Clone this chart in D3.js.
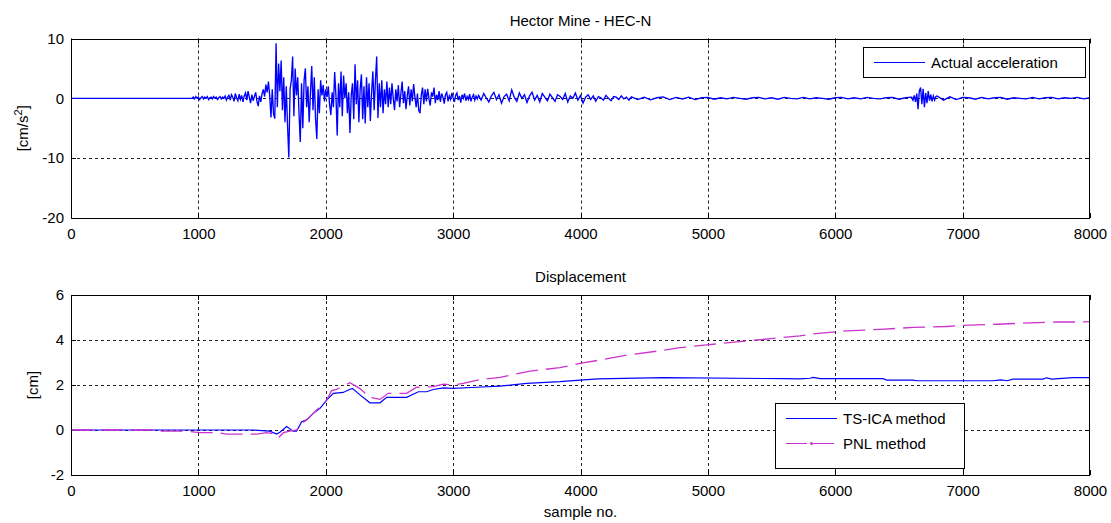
<!DOCTYPE html>
<html>
<head>
<meta charset="utf-8">
<script src="https://cdn.jsdelivr.net/npm/d3@7"></script>
<style>
  html, body { margin: 0; padding: 0; background: #fff; }
  svg { display: block; font-family: "Liberation Sans", Arial, sans-serif; }
</style>
</head>
<body>
<svg id="chart" width="1111" height="523"></svg>
<script>
// ---------------- DATA ----------------
const xTicks = [0, 1000, 2000, 3000, 4000, 5000, 6000, 7000, 8000];
const accTicks = [-20, -10, 0, 10];
const dispTicks = [-2, 0, 2, 4, 6];

// Acceleration (cm/s^2), hand-read segments: each has a start sample and a sample step
const accLead = [0, 0];                       // samples 0, 950
const accPre = [0.2, -0.1, 0.3, 0.0, 0.2, -0.2, 0.1, 0.3, -0.1, 0.2, 0.0, 0.3, -0.2, 0.1, 0.2,
  -0.1, 0.3, 0.0, 0.2, -0.2, 0.1, 0.3, -0.1, 0.2, 0.0, 0.4, -0.3, 0.2, 0.5];   // from 960, step 10
const accRise = [-0.3, 0.6, 0.2, -0.5, 0.8, 0.1, -0.4, 0.7, -0.2, 0.5, -0.6, 0.4, 0.9, -0.3, 1.2,
  0.2, -0.8, 0.6, -0.4, 0.3, 1.0, -0.5, -1.3, 0.4, -0.6, 0.8, 1.5, 0.3, 2.3, 1.0];  // from 1250, step 10
const accMain1 = [2.8, 0.5, -3.2, 1.5, -2.6, -3.4, 9.2, -1.5, 5.8, 1.2, 6.3, -2.0, 3.5, -4.0, 2.0,
  -4.5, -9.9, 1.5, 3.0, 7.0, -3.0, 5.0, 0.5, 3.5, -2.5, -7.3, 2.5, -5.0, 3.0, 5.0, -1.5, 2.0, -4.0,
  1.0, 5.4, -2.0, 3.5, -3.5, -6.8, 1.5, -2.5, 3.0, 0.5, 2.2, -0.5];            // from 1550, step 10
const accMain2 = [1.5, 0.2, 2.0, -1.0, -2.8, 1.0, -1.5, 4.4, 0.5, -6.2, 2.5, -1.5, 4.5, -3.0, 3.8,
  0.0, 2.5, -2.5, 1.0, -5.8, 0.5, 2.5, -3.5, 5.7, -1.0, 3.0, -4.0, 1.5, 4.0, -3.5, 2.0, -4.2, 3.5,
  -1.5, 2.5, -3.8, 1.0, 4.5, -2.0, 3.0, 7.0, -3.3, 2.5, -1.5, 3.0, -2.5, 1.5, -1.0, 2.8, -1.5]; // from 2000, step 10
const accCoda = [1.8, -1.0, 2.5, 0.0, -2.0, 1.5, -0.5, 2.2, -1.5, 0.8, 2.8, -0.8, 1.2, -1.8, 0.5,
  2.0, -1.2, 1.5, -0.5, 2.4, 0.2, -1.5, 0.8, -2.0, -2.5, 0.5, 1.8, -1.0, 1.5, -0.5, 1.6, 0.0, -1.2,
  1.0, 0.3, 1.8, -0.8, 0.6, -0.3, 1.2, -0.6, 0.8, 0.2, -0.9, 0.6, 1.0, -0.5, 0.4, -0.2, 0.9, 0.1,
  -0.6, 0.5, 0.9, -0.3, 0.4, -0.7, 0.6, 0.0, 0.8, -0.4, 0.3, -0.2, 0.7, -0.5, 0.2, 0.6, -0.3, 0.4, -0.1]; // from 2500, step 10
const accMid = [0.5, -0.3, 0.8, 0.1, -0.6, 0.4, 1.0, -0.2, 0.6, -0.8, 0.3, 0.7, -0.4, 1.4, 0.2,
  -0.5, 0.9, 0.0, 0.6, -0.7, 0.4, 1.0, -0.3, 0.5, -0.6, 0.8, 0.2, -0.4, 0.7, 0.1, -0.5, 0.6, 0.3,
  -0.2, 0.8, -0.6, 0.4, 0.0, 0.9, -0.3, 0.5, -0.8, 0.2, 0.6, -0.2, 0.4, -0.5, 0.3, 0.1, -0.3, 0.5,
  0.0, -0.4, 0.3, 0.2, -0.2, 0.4, -0.1, 0.2, -0.3];                             // from 3200, step 20
const accTail1 = [0.25, -0.2, 0.2, -0.25, 0.1, 0.25, -0.2, 0.15, -0.1, 0.2, -0.2, 0.1, 0.15, -0.15, 0.1,
  -0.1, 0.15, 0.0, -0.15, 0.1, 0.15, -0.1, 0.1, -0.15, 0.15, 0.0, -0.1, 0.15, -0.1, 0.1, 0.0, -0.15, 0.1,
  0.15, -0.1, 0.1, -0.1, 0.15, 0.0, -0.1, 0.1, 0.15, -0.15, 0.1];               // from 4400, step 50
const accBurst = [0.2, -0.3, 0.5, -0.6, 0.8, -1.8, 1.2, 1.8, -1.0, 1.6, -1.5, 0.9, -0.8, 1.2, -0.4,
  0.6, -0.5, 0.4, -0.3, 0.3];                                                    // from 6600, step 10
const accTail2 = [0.4, -0.3, 0.25, -0.2, 0.15, 0.1, -0.15, 0.15, -0.1, 0.1, 0.15, -0.15, 0.1, 0.0, -0.1,
  0.15, -0.1, 0.1, 0.15, -0.1, 0.1, 0.0, 0.15, -0.1, 0.1];                       // from 6800, step 50

// Displacement (cm)
const tsicaSamples = [0, 1430, 1560, 1615, 1640, 1693, 1744, 1771, 1811, 1850, 1902, 1955, 2007, 2059,
  2137, 2190, 2211, 2269, 2347, 2426, 2478, 2635, 2727, 2792, 2844, 2923, 3001, 3184, 3368, 3577,
  3839, 3996, 4137, 4648, 5590, 5723, 5800, 5827, 5880, 6375, 6405, 6610, 6640, 7240, 7300, 7350,
  7395, 7630, 7660, 7700, 7865, 8000];
const tsicaValues = [0, 0, -0.05, -0.18, -0.1, 0.15, -0.05, -0.05, 0.37, 0.45, 0.74, 0.96, 1.33, 1.63,
  1.67, 1.81, 1.84, 1.56, 1.21, 1.21, 1.45, 1.45, 1.7, 1.7, 1.8, 1.87, 1.85, 1.9, 1.95, 2.07,
  2.15, 2.22, 2.27, 2.33, 2.28, 2.27, 2.3, 2.34, 2.28, 2.28, 2.22, 2.22, 2.19, 2.19, 2.23, 2.19,
  2.26, 2.26, 2.32, 2.26, 2.33, 2.33];
const pnlSamples = [0, 645, 660, 910, 1010, 1145, 1220, 1460, 1536, 1590, 1628, 1667, 1720, 1772, 1798,
  1850, 1928, 1994, 2046, 2085, 2190, 2269, 2347, 2426, 2490, 2635, 2713, 2844, 2923, 3001, 3080,
  3211, 3368, 3604, 3839, 3996, 4153, 4362, 4623, 4780, 4990, 5251, 5513, 5722, 5827, 6090, 6351,
  6613, 6875, 7006, 7268, 7530, 7738, 7920, 8000];
const pnlValues = [0, 0, -0.05, -0.05, -0.12, -0.12, -0.18, -0.18, -0.12, -0.17, -0.34, -0.12, -0.05, 0,
  0.22, 0.45, 0.89, 1.19, 1.75, 1.81, 2.1, 1.84, 1.45, 1.36, 1.63, 1.63, 1.9, 1.93, 2.04, 2.0, 2.07,
  2.24, 2.34, 2.62, 2.77, 2.96, 3.11, 3.33, 3.52, 3.66, 3.78, 3.93, 4.07, 4.18, 4.27, 4.41, 4.47,
  4.56, 4.6, 4.65, 4.7, 4.76, 4.8, 4.8, 4.82];

// segment table (start sample, step) built from the arrays above
const accSegments = [
  { start: 0, step: 950, values: accLead },
  { start: 960, step: 10, values: accPre },
  { start: 1250, step: 10, values: accRise },
  { start: 1550, step: 10, values: accMain1 },
  { start: 2000, step: 10, values: accMain2 },
  { start: 2500, step: 10, values: accCoda },
  { start: 3200, step: 20, values: accMid },
  { start: 4400, step: 50, values: accTail1 },
  { start: 6600, step: 10, values: accBurst },
  { start: 6800, step: 50, values: accTail2 }
];
const accData = [];
accSegments.forEach(s => s.values.forEach((v, i) => accData.push([s.start + i * s.step, v])));
const tsicaData = tsicaSamples.map((s, i) => [s, tsicaValues[i]]);
const pnlData = pnlSamples.map((s, i) => [s, pnlValues[i]]);

// ---------------- DRAW ----------------
const svg = d3.select("#chart");
const X0 = 71, X1 = 1090;
const x = d3.scaleLinear().domain([0, 8000]).range([X0, X1]);
const yTop = d3.scaleLinear().domain([-20, 10]).range([218, 38.5]);
const yBot = d3.scaleLinear().domain([-2, 6]).range([475, 295]);
const FS = 15;
const fmt = d => String(d);   // plain hyphen-minus like the original

function panel(y, yTicks, title, id) {
  const g = svg.append("g");
  const [yb, yt] = y.range();
  // grid
  g.selectAll("line.vg").data(xTicks.slice(1, -1)).enter().append("line")
    .attr("x1", d => Math.round(x(d)) + 0.5).attr("x2", d => Math.round(x(d)) + 0.5)
    .attr("y1", yt).attr("y2", yb)
    .attr("stroke", "#222").attr("stroke-width", 1).attr("stroke-dasharray", "3,3");
  g.selectAll("line.hg").data(yTicks.slice(1, -1)).enter().append("line")
    .attr("x1", X0).attr("x2", X1)
    .attr("y1", d => Math.round(y(d)) + 0.5).attr("y2", d => Math.round(y(d)) + 0.5)
    .attr("stroke", "#222").attr("stroke-width", 1).attr("stroke-dasharray", "3,3");
  // clip
  svg.append("clipPath").attr("id", id).append("rect")
    .attr("x", X0).attr("y", yt).attr("width", X1 - X0).attr("height", yb - yt);
  // x axis
  const xa = g.append("g").attr("transform", `translate(0,${yb})`)
    .call(d3.axisBottom(x).tickValues(xTicks).tickSize(0).tickPadding(10).tickFormat(fmt));
  xa.select(".domain").remove();
  xa.selectAll("text").attr("font-size", FS).attr("fill", "#000")
    .attr("font-family", "'Liberation Sans', Arial, sans-serif");
  // y axis
  const ya = g.append("g").attr("transform", `translate(${X0},0)`)
    .call(d3.axisLeft(y).tickValues(yTicks).tickSize(0).tickPadding(7).tickFormat(fmt));
  ya.select(".domain").remove();
  ya.selectAll("text").attr("font-size", FS).attr("fill", "#000")
    .attr("font-family", "'Liberation Sans', Arial, sans-serif");
  // inward tick marks
  xTicks.forEach(t => {
    const px = Math.round(x(t)) + 0.5;
    g.append("line").attr("x1", px).attr("x2", px).attr("y1", yb).attr("y2", yb - 5).attr("stroke", "#000");
    g.append("line").attr("x1", px).attr("x2", px).attr("y1", yt).attr("y2", yt + 5).attr("stroke", "#000");
  });
  yTicks.forEach(t => {
    const py = Math.round(y(t)) + 0.5;
    g.append("line").attr("x1", X0).attr("x2", X0 + 5).attr("y1", py).attr("y2", py).attr("stroke", "#000");
    g.append("line").attr("x1", X1).attr("x2", X1 - 5).attr("y1", py).attr("y2", py).attr("stroke", "#000");
  });
  // title
  svg.append("text").attr("x", (X0 + X1) / 2).attr("y", yt - 13)
    .attr("text-anchor", "middle").attr("font-size", FS).text(title);
  return g;
}

panel(yTop, accTicks, "Hector Mine - HEC-N", "clipTop");
panel(yBot, dispTicks, "Displacement", "clipBot");

// acceleration line
const lineTop = d3.line().x(d => x(d[0])).y(d => yTop(d[1]));
svg.append("path").datum(accData).attr("clip-path", "url(#clipTop)")
  .attr("d", lineTop).attr("fill", "none").attr("stroke", "#0000ff").attr("stroke-width", 1.35)
  .attr("stroke-linejoin", "miter");

// displacement lines
const lineBot = d3.line().x(d => x(d[0])).y(d => yBot(d[1]));
svg.append("path").datum(tsicaData).attr("clip-path", "url(#clipBot)")
  .attr("d", lineBot).attr("fill", "none").attr("stroke", "#0000ff").attr("stroke-width", 1.2);
svg.append("path").datum(pnlData).attr("clip-path", "url(#clipBot)")
  .attr("d", lineBot).attr("fill", "none").attr("stroke", "#cc33cc").attr("stroke-width", 1.3)
  .attr("stroke-dasharray", "22,8");

// axes frames
[yTop, yBot].forEach(y => {
  const [yb, yt] = y.range();
  svg.append("rect").attr("x", X0 + 0.5).attr("y", Math.round(yt) + 0.5)
    .attr("width", X1 - X0 - 1).attr("height", Math.round(yb) - Math.round(yt))
    .attr("fill", "none").attr("stroke", "#000").attr("stroke-width", 1);
});

// y labels
svg.append("text").attr("transform", `translate(28,${(yTop(10) + yTop(-20)) / 2}) rotate(-90)`)
  .attr("text-anchor", "middle").attr("font-size", FS)
  .call(t => {
    t.append("tspan").text("[cm/s");
    t.append("tspan").attr("font-size", 11).attr("dy", -6).text("2");
    t.append("tspan").attr("dy", 6).text("]");
  });
svg.append("text").attr("transform", `translate(38,${(yBot(6) + yBot(-2)) / 2}) rotate(-90)`)
  .attr("text-anchor", "middle").attr("font-size", FS).text("[cm]");

// x label
svg.append("text").attr("x", (X0 + X1) / 2).attr("y", 517)
  .attr("text-anchor", "middle").attr("font-size", FS).text("sample no.");

// legends
function legend(x0, y0, w, h, items) {
  const g = svg.append("g");
  g.append("rect").attr("x", x0 + 0.5).attr("y", y0 + 0.5).attr("width", w).attr("height", h)
    .attr("fill", "#fff").attr("stroke", "#000");
  items.forEach((it, i) => {
    const ly = y0 + 15.5 + i * 25;
    g.append("line").attr("x1", x0 + 11).attr("x2", x0 + 62).attr("y1", ly).attr("y2", ly)
      .attr("stroke", it.color).attr("stroke-width", 1.2)
      .attr("stroke-dasharray", it.dash ? "21,6" : null);
    if (it.dot) g.append("circle").attr("cx", x0 + 36.5).attr("cy", ly).attr("r", 1.5).attr("fill", it.color);
    g.append("text").attr("x", x0 + 68).attr("y", ly).attr("dy", "0.36em")
      .attr("font-size", FS).text(it.label);
  });
}
legend(863, 47, 222, 30, [{ label: "Actual acceleration", color: "#0000ff" }]);
legend(775, 403, 189, 65, [
  { label: "TS-ICA method", color: "#0000ff" },
  { label: "PNL method", color: "#cc33cc", dash: true, dot: true }
]);
</script>
</body>
</html>
